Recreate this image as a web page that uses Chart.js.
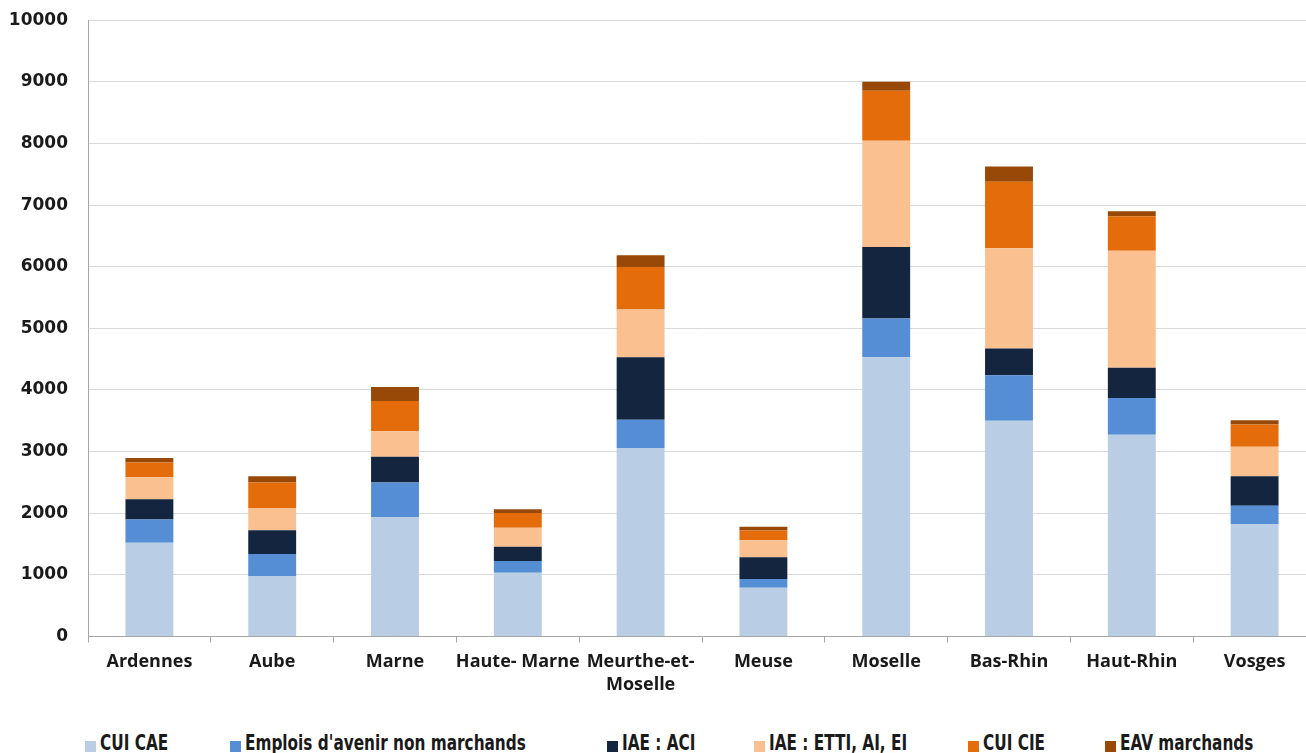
<!DOCTYPE html>
<html lang="fr">
<head>
    <meta charset="UTF-8">
    <title>Contrats aidés par département</title>
    <style>
        html, body {
            margin: 0;
            padding: 0;
            background: #fff;
            overflow: hidden;
        }
        .wrap {
            position: relative;
            width: 1306px;
            height: 753px;
            overflow: hidden;
        }
        .chart-box {
            position: absolute;
            left: 0;
            top: -10px;
            width: 1320px;
            height: 700px;
        }
        .legend-item {
            position: absolute;
            top: 733px;
            height: 21px;
            line-height: 21px;
            font-family: 'Liberation Sans Narrow', 'DejaVu Sans Condensed', sans-serif;
            font-weight: bold;
            font-size: 21px;
            color: #1a1a1a;
            white-space: nowrap;
        }
        .legend-item span.box {
            position: absolute;
            left: 0;
            top: 8px;
            width: 11px;
            height: 11px;
        }
        .legend-item span.txt {
            display: inline-block;
            margin-left: 15px;
            transform: scaleX(0.81);
            transform-origin: left center;
        }
    </style>
    <script src="https://cdn.jsdelivr.net/npm/chart.js"></script>
</head>
<body>
    <div class="wrap">
        <div class="chart-box">
            <canvas id="chart" width="1320" height="700"></canvas>
        </div>
        <div id="legend"></div>
    </div>

    <script>
        // départements
        const departements = ['Ardennes', 'Aube', 'Marne', 'Haute- Marne', ['Meurthe-et-', 'Moselle'],
            'Meuse', 'Moselle', 'Bas-Rhin', 'Haut-Rhin', 'Vosges'];

        // valeurs par type de contrat
        const cuiCae = [1520, 980, 1940, 1035, 3060, 790, 4530, 3500, 3275, 1825];
        const emploisAvenir = [380, 360, 560, 190, 455, 145, 630, 740, 595, 295];
        const iaeAci = [325, 385, 415, 230, 1015, 350, 1160, 435, 490, 480];
        const iaeEtti = [360, 360, 415, 310, 775, 275, 1725, 1625, 1900, 480];
        const cuiCie = [240, 415, 490, 240, 690, 160, 810, 1080, 560, 360];
        const eavMarchands = [70, 100, 230, 60, 190, 60, 145, 245, 80, 70];

        const yTicks = [0, 1000, 2000, 3000, 4000, 5000, 6000, 7000, 8000, 9000, 10000];

        const series = [
            { label: 'CUI CAE', data: cuiCae, color: '#b9cde5' },
            { label: "Emplois d'avenir non marchands", data: emploisAvenir, color: '#558ed5' },
            { label: 'IAE : ACI', data: iaeAci, color: '#14253f' },
            { label: 'IAE : ETTI, AI, EI', data: iaeEtti, color: '#fac090' },
            { label: 'CUI CIE', data: cuiCie, color: '#e46c0a' },
            { label: 'EAV marchands', data: eavMarchands, color: '#984807' }
        ];

        // position gauche de chaque entrée de légende
        const legendLeft = [85, 230, 607, 754, 968, 1105];

        const ctx = document.getElementById('chart').getContext('2d');

        const chart = new Chart(ctx, {
            type: 'bar',
            data: {
                labels: departements,
                datasets: series.map(s => ({
                    label: s.label,
                    data: s.data,
                    backgroundColor: s.color,
                    borderWidth: 0,
                    categoryPercentage: 1,
                    barPercentage: 0.39
                }))
            },
            options: {
                responsive: false,
                animation: false,
                layout: {
                    padding: { top: 10, right: 4, left: 0, bottom: 0 }
                },
                plugins: {
                    legend: { display: false },
                    tooltip: { enabled: false }
                },
                scales: {
                    x: {
                        stacked: true,
                        offset: true,
                        grid: {
                            display: true,
                            drawOnChartArea: false,
                            drawTicks: true,
                            tickLength: 6,
                            color: '#a6a6a6',
                            offset: true
                        },
                        border: { color: '#a6a6a6', width: 1 },
                        ticks: {
                            color: '#1a1a1a',
                            padding: 8,
                            maxRotation: 0,
                            autoSkip: false,
                            font: { family: "'Open Sans', sans-serif", weight: 'bold', size: 18, lineHeight: 1.28 }
                        },
                        afterFit: (scale) => { scale.height = 53.5; }
                    },
                    y: {
                        stacked: true,
                        min: 0,
                        max: 10000,
                        afterBuildTicks: (scale) => { scale.ticks = yTicks.map(v => ({ value: v })); },
                        grid: {
                            color: '#d9d9d9',
                            drawTicks: false
                        },
                        border: { color: '#a6a6a6', width: 1 },
                        ticks: {
                            color: '#1a1a1a',
                            padding: 20,
                            callback: (v) => String(v),
                            font: { family: "'DejaVu Sans', sans-serif", weight: 'bold', size: 17 }
                        },
                        afterFit: (scale) => { scale.width = 88; }
                    }
                }
            }
        });

        // légende en bas, construite à partir des datasets
        const legend = document.getElementById('legend');
        chart.data.datasets.forEach((ds, i) => {
            const item = document.createElement('div');
            item.className = 'legend-item';
            item.style.left = legendLeft[i] + 'px';
            const box = document.createElement('span');
            box.className = 'box';
            box.style.background = ds.backgroundColor;
            const txt = document.createElement('span');
            txt.className = 'txt';
            txt.textContent = ds.label;
            item.appendChild(box);
            item.appendChild(txt);
            legend.appendChild(item);
        });
    </script>
</body>
</html>
